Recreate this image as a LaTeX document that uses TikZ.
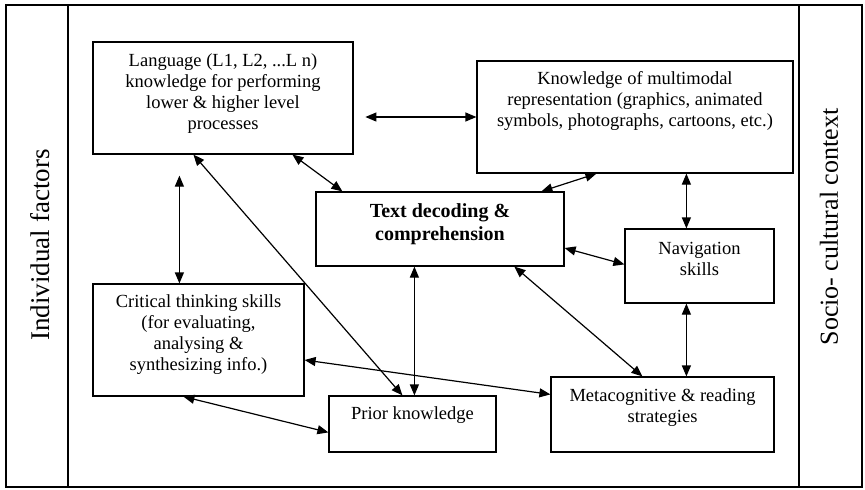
\documentclass[tikz,border=0pt]{standalone}
\usepackage{fontspec}
\setmainfont{Liberation Serif}
\usetikzlibrary{arrows.meta}
\begin{document}
\begin{tikzpicture}[x=1pt,y=-1pt,
  box/.style 2 args={draw,line width=1.2pt,minimum width=#1,minimum height=#2,inner sep=0pt},
  txt/.style={align=center,font=\fontsize{18.5}{21}\selectfont,inner sep=0pt},
  side/.style={rotate=90,font=\fontsize{26}{30}\selectfont,inner sep=0pt},
  dbl/.style={{Triangle[length=11pt,width=9pt]}-{Triangle[length=11pt,width=9pt]},line width=1.2pt}]
\useasboundingbox (0,0) rectangle (865,490);
% frame
\draw[line width=1.4pt] (6,5) rectangle (862,487);
\draw[line width=1.4pt] (68,5) -- (68,487);
\draw[line width=1.4pt] (799,5) -- (799,487);
\node[side,font=\fontsize{27}{30}\selectfont] (indiv) at (40,245) {Individual factors};
\node[side] (socio) at (829,227) {Socio- cultural context};
% boxes
\node[box={260pt}{112pt}] (lang) at (223,98) {};
\node[box={316pt}{112pt}] (mm) at (635,117) {};
\node[box={248pt}{74pt}] (td) at (440,229) {};
\node[box={149pt}{74pt}] (nav) at (699.5,266) {};
\node[box={211pt}{112pt}] (crit) at (198.5,340) {};
\node[box={167pt}{56pt}] (prior) at (412.5,424) {};
\node[box={223pt}{75pt}] (meta) at (662.5,414.5) {};
% texts
\node[txt] (langT) at (223,94) {Language (L1, L2, ...L n)\\knowledge for performing\\lower \& higher level\\processes};
\node[txt] (mmT) at (635,101) {Knowledge of multimodal\\representation (graphics, animated\\symbols, photographs, cartoons, etc.)};
\node[txt,font=\fontsize{20}{23}\selectfont\bfseries] (tdT) at (440,224) {Text decoding \&\\comprehension};
\node[txt] (navT) at (699.5,258.5) {Navigation\\skills};
\node[txt] (critT) at (198.5,335) {Critical thinking skills\\(for evaluating,\\analysing \&\\synthesizing info.)};
\node[txt] (priorT) at (412.5,415) {Prior knowledge};
\node[txt] (metaT) at (662.5,407.5) {Metacognitive \& reading\\strategies};
% connectors
\draw[dbl] ([xshift=-111pt]mm.west) -- (mm.west);
\draw[dbl] ([xshift=200pt]lang.south west) -- ([xshift=27pt]td.north west);
\draw[dbl] ([xshift=87pt,yshift=-21pt]lang.south west) -- ([xshift=87pt]crit.north west);
\draw[dbl] ([xshift=101pt]lang.south west) -- ([xshift=74pt]prior.north west);
\draw[dbl] ([xshift=120pt]mm.south west) -- ([xshift=226pt]td.north west);
\draw[dbl] ([xshift=210pt]mm.south west) -- ([xshift=62pt]nav.north west);
\draw[dbl] ([yshift=-19pt]td.east) -- ([yshift=-36pt]nav.north west);
\draw[dbl] ([xshift=199pt]td.south west) -- ([xshift=92pt]meta.north west);
\draw[dbl] ([xshift=62pt]nav.south west) -- ([xshift=136pt]meta.north west);
\draw[dbl] ([xshift=99pt]td.south west) -- ([xshift=86pt]prior.north west);
\draw[dbl] ([yshift=-20pt]crit.east) -- ([yshift=-18pt]meta.north west);
\draw[dbl] ([xshift=91pt]crit.south west) -- ([yshift=-37pt]prior.north west);
\end{tikzpicture}
\end{document}
